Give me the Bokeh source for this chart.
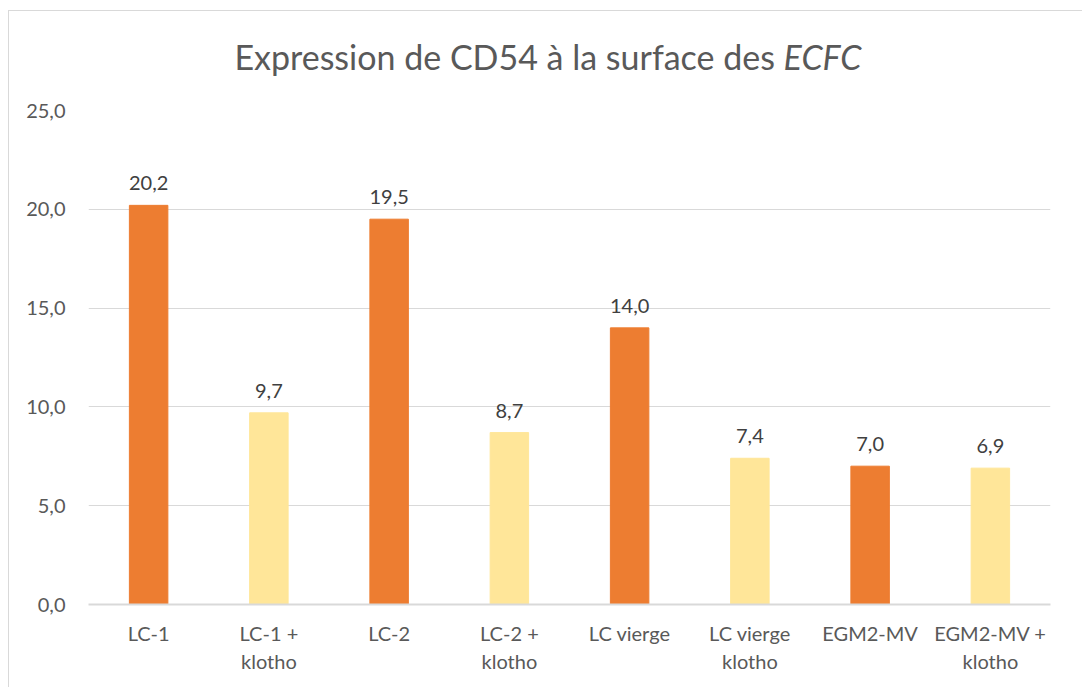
from bokeh.plotting import figure
from bokeh.models import ColumnDataSource, FactorRange, Range1d, FixedTicker, Div
from bokeh.layouts import column
from bokeh.embed import file_html
from bokeh.resources import INLINE
from bokeh.core.properties import value

categories = ["LC-1", "LC-1 +\nklotho", "LC-2", "LC-2 +\nklotho", "LC vierge",
              "LC vierge\nklotho", "EGM2-MV", "EGM2-MV +\nklotho"]
values = [20.2, 9.7, 19.5, 8.7, 14.0, 7.4, 7.0, 6.9]
colors = ["#ED7D31", "#FFE699"] * 4
y_ticks = [0, 5, 10, 15, 20, 25]
labels = [f"{v:.1f}".replace(".", ",") for v in values]
title_main = "Expression de CD54 à la surface des "
title_italic = "ECFC"

FONT = "Lato"
W = 1068
DIV_H = 70
FIG_H = 596
LEFT, TOP, BOTTOM = 79, 19, 83
FRAME_RIGHT = 1041

title = Div(
    text=(f'<div style="width:{W}px;text-align:center;font-family:{FONT};'
          f'font-size:34px;color:#595959;line-height:40px;padding-top:21px;'
          f'white-space:nowrap">{title_main}<i>{title_italic}</i></div>'),
    width=W, height=DIV_H)

src = ColumnDataSource(dict(cat=categories, val=values, col=colors, lab=labels))

p = figure(x_range=FactorRange(*categories), y_range=Range1d(0, 25),
           width=W, height=FIG_H, output_backend="svg", toolbar_location=None,
           min_border_left=LEFT, min_border_right=W - FRAME_RIGHT,
           min_border_top=TOP, min_border_bottom=BOTTOM)
p.outline_line_color = None
p.x_range.range_padding = 0
p.x_range.group_padding = 0

p.vbar(x="cat", top="val", width=0.32, color="col", source=src)
p.text(x="cat", y="val", text="lab", source=src, text_align="center",
       text_baseline="bottom", y_offset=-15, text_font=value(FONT),
       text_font_size="20px", text_color="#404040")

p.yaxis.ticker = FixedTicker(ticks=y_ticks)
p.yaxis.major_label_overrides = {t: f"{t:.1f}".replace(".", ",") for t in y_ticks}
p.yaxis.axis_line_color = None
p.yaxis.major_tick_line_color = None
p.yaxis.minor_tick_line_color = None
p.yaxis.major_label_standoff = 17
p.yaxis.major_label_text_font = FONT
p.yaxis.major_label_text_font_size = "20px"
p.yaxis.major_label_text_color = "#595959"

p.xaxis.axis_line_color = "#D9D9D9"
p.xaxis.axis_line_width = 2
p.xaxis.major_tick_line_color = None
p.xaxis.minor_tick_line_color = None
p.xaxis.major_label_standoff = 10
p.xaxis.major_label_text_font = FONT
p.xaxis.major_label_text_font_size = "20px"
p.xaxis.major_label_text_color = "#595959"
p.xaxis.major_label_text_line_height = 1.17

p.xgrid.grid_line_color = None
p.ygrid.grid_line_color = "#D9D9D9"
p.ygrid.grid_line_width = 1

layout = column(title, p, spacing=0)
layout.styles = {"border": "1px solid #D9D9D9", "border-bottom": "none",
                 "margin": "10px 0 0 8px"}

open("out.html", "w").write(file_html(layout, INLINE))
